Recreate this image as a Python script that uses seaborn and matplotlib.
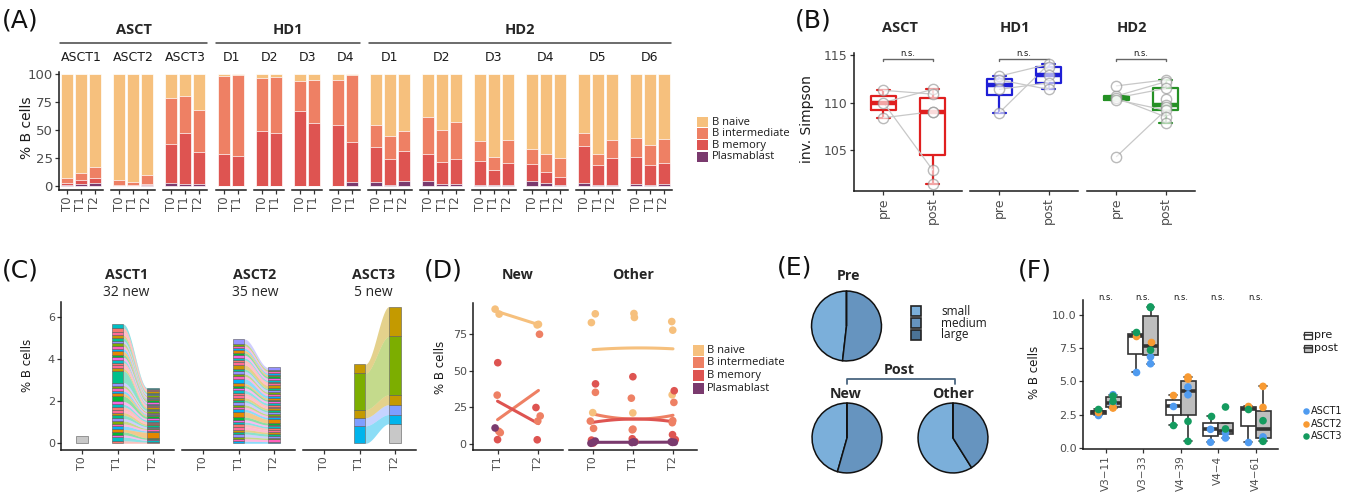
import matplotlib
matplotlib.use('Agg')
import matplotlib.pyplot as plt
from matplotlib.patches import Rectangle
import seaborn as sns
import pandas as pd
import numpy as np

# ---------------- data ----------------
cell_types = ['B naive', 'B intermediate', 'B memory', 'Plasmablast']
cell_colors = ['#F6C07D', '#EE8064', '#DE5451', '#7A3A6E']

# (A) composition per donor / timepoint, % of B cells (B naive = rest up to 100)
a_groups = ['ASCT', 'HD1', 'HD2']
a_facets = ['ASCT1', 'ASCT2', 'ASCT3', 'D1', 'D2', 'D3', 'D4',
            'D1', 'D2', 'D3', 'D4', 'D5', 'D6']
a_times = [['T0', 'T1', 'T2']] * 3 + [['T0', 'T1']] * 4 + [['T0', 'T1', 'T2']] * 6
a_plasma = [[0.8, 1.5, 2.4], [0.2, 0.2, 0.5], [2.4, 2.0, 1.5],
            [0.0, 0.0], [0.0, 0.0], [0.0, 0.0], [0.3, 3.6],
            [3.9, 0.5, 4.5], [4.2, 1.8, 2.0], [1.0, 0.5, 0.5],
            [4.8, 2.7, 0.5], [3.0, 0.5, 0.5], [1.5, 0.5, 1.5]]
a_memory = [[2.2, 3.9, 4.6], [0.8, 0.3, 1.3], [35.1, 45.0, 28.9],
            [28.6, 26.8], [49.0, 47.0], [66.7, 56.5], [54.2, 35.4],
            [30.9, 23.9, 27.0], [24.8, 19.8, 22.3], [21.2, 13.9, 19.9],
            [14.7, 9.9, 7.9], [33.0, 18.4, 24.9], [24.8, 18.4, 19.5]]
a_inter = [[3.8, 5.9, 10.3], [4.4, 3.1, 8.0], [41.5, 33.6, 37.4],
           [69.6, 72.7], [47.4, 50.3], [27.3, 38.5], [40.1, 60.0],
           [19.7, 20.6, 17.9], [32.6, 28.7, 32.9], [18.2, 11.9, 20.9],
           [14.0, 15.8, 16.2], [11.6, 10.1, 15.3], [16.5, 17.3, 20.9]]

# (B) inverse Simpson index
b_groups = ['ASCT', 'HD1', 'HD2']
b_colors = ['#E01F1F', '#1F1FD6', '#259125']
b_pre = [[111.3, 110.0, 108.4],
         [112.8, 112.4, 111.4, 108.95],
         [111.77, 110.7, 110.5, 110.3, 104.3]]
b_post = [[111.4, 110.9, 109.05, 109.05, 102.9, 101.4],
          [114.05, 113.8, 112.9, 112.1, 111.4],
          [112.4, 112.2, 111.5, 110.4, 109.8, 109.5, 109.2, 108.5, 107.8]]
b_link_pre = [[110.0, 111.3, 110.0, 108.4],
              [112.8, 112.4, 111.4, 108.95],
              [111.77, 110.7, 110.5, 110.3, 110.5, 104.3]]
b_link_post = [[111.4, 110.9, 102.9, 109.05],
               [114.05, 111.4, 112.1, 114.05],
               [112.4, 112.2, 111.5, 109.2, 108.5, 109.2]]

# (C) new clones, % of B cells per clone at T0 / T1 / T2
c_facets = ['ASCT1', 'ASCT2', 'ASCT3']
c_new = [32, 35, 5]
asct1_t1 = [0.12, 0.18, 0.10, 0.14, 0.12, 0.16, 0.10, 0.14, 0.12, 0.15, 0.13, 0.11,
            0.16, 0.12, 0.14, 0.25, 0.13, 0.12, 0.15, 0.11, 0.14, 0.55, 0.12, 0.15,
            0.13, 0.11, 0.14, 0.12, 0.16, 0.13, 0.12, 0.14, 0.11, 0.15, 0.13, 0.14,
            0.20, 0.18]
asct1_t2 = [0.06, 0.08, 0.05, 0.07, 0.27, 0.06, 0.07, 0.05, 0.08, 0.06, 0.07, 0.05,
            0.06, 0.08, 0.07, 0.10, 0.06, 0.05, 0.07, 0.06, 0.05, 0.08, 0.06, 0.07,
            0.05, 0.06, 0.08, 0.07, 0.06, 0.05, 0.07, 0.06, 0.08, 0.05, 0.06, 0.07,
            0.06, 0.05]
asct1_t0_other = 0.35
asct2_t1 = [0.10, 0.12, 0.09, 0.13, 0.11, 0.10, 0.14, 0.12, 0.10, 0.11,
            0.13, 0.25, 0.12, 0.10, 0.11, 0.13, 0.09, 0.12, 0.11, 0.10,
            0.14, 0.12, 0.11, 0.10, 0.22, 0.12, 0.11, 0.13, 0.10, 0.20,
            0.12, 0.11, 0.10, 0.13, 0.12, 0.11, 0.10, 0.12, 0.11, 0.21]
asct2_t2 = [0.08, 0.10, 0.07, 0.09, 0.11, 0.08, 0.10, 0.09, 0.08, 0.07,
            0.10, 0.18, 0.09, 0.08, 0.07, 0.10, 0.08, 0.09, 0.07, 0.08,
            0.10, 0.09, 0.08, 0.07, 0.12, 0.09, 0.08, 0.10, 0.07, 0.15,
            0.09, 0.08, 0.07, 0.10, 0.09, 0.08, 0.07, 0.09, 0.08, 0.10]
asct3_t1 = [0.0, 0.83, 0.39, 0.38, 1.74, 0.43]
asct3_t2 = [0.93, 0.44, 0.47, 0.47, 2.78, 1.42]
asct3_colors = ['#C8C8C8', '#00B4EC', '#7F9EFF', '#C49A00', '#7CAE00', '#C49A00']
clone_palette = ['#F8766D', '#00BFC4', '#F564E3', '#00BA38', '#E58700', '#00B0F6',
                 '#FF62BC', '#7CAE00', '#9590FF', '#00C08B', '#C99800', '#FF6A98']

# (D) subsets of new vs other clones
d_new_times = ['T1', 'T2']
d_new_naive = [[92.2, 88.8], [81.4, 81.8]]
d_new_inter = [[33.3, 8.5, 7.6], [75.0, 19.0, 15.5]]
d_new_memory = [[55.5, 2.8], [24.8, 2.7]]
d_new_plasma = [[10.8], []]
d_oth_times = ['T0', 'T1', 'T2']
d_oth_naive = [[89.0, 83.0, 21.3], [86.5, 89.2, 21.1], [83.7, 77.8, 33.5]]
d_oth_inter = [[35.2, 15.5, 10.5], [31.2, 10.0, 9.5], [28.3, 14.4, 15.8]]
d_oth_memory = [[41.0, 2.5, 0.5], [45.9, 3.4, 1.5], [36.3, 6.2, 2.8]]
d_oth_plasma = [[1.8, 0.3, 0.8], [1.0, 0.8, 1.2], [1.3, 1.0, 0.9]]

# (E) clone size classes, %
e_sizes = ['small', 'medium', 'large']
e_colors = ['#7BAFDA', '#6694BF', '#4B7396']
e_pre = [48.2, 51.8, 0.0]
e_new = [45.6, 54.4, 0.0]
e_other = [58.9, 41.1, 0.0]

# (F) IGHV genes
f_genes = ['V3\u221211', 'V3\u221233', 'V4\u221239', 'V4\u22124', 'V4\u221261']
f_donors = ['ASCT1', 'ASCT2', 'ASCT3']
f_donor_colors = ['#4F9BF0', '#F89A32', '#149B5F']
f_pre_vals = [[2.45, 2.68, 2.95], [8.75, 8.4, 5.73], [3.98, 3.18, 1.75],
              [2.38, 1.4, 0.43], [3.18, 2.93, 0.43]]
f_pre_donor = [['ASCT1', 'ASCT2', 'ASCT3'], ['ASCT3', 'ASCT2', 'ASCT1'],
               ['ASCT2', 'ASCT1', 'ASCT3'], ['ASCT3', 'ASCT1', 'ASCT1'],
               ['ASCT2', 'ASCT3', 'ASCT1']]
f_post_vals = [[4.0, 3.9, 3.5, 3.3, 3.05, 3.0],
               [10.6, 10.55, 7.95, 7.35, 6.85, 6.33],
               [5.33, 5.18, 4.58, 4.0, 2.0, 0.5],
               [3.08, 1.43, 1.13, 0.75],
               [4.63, 3.05, 2.05, 0.83, 0.7, 0.5]]
f_post_donor = [['ASCT1', 'ASCT3', 'ASCT3', 'ASCT1', 'ASCT2', 'ASCT2'],
                ['ASCT3', 'ASCT3', 'ASCT2', 'ASCT3', 'ASCT1', 'ASCT1'],
                ['ASCT2', 'ASCT2', 'ASCT1', 'ASCT1', 'ASCT3', 'ASCT3'],
                ['ASCT3', 'ASCT3', 'ASCT1', 'ASCT1'],
                ['ASCT2', 'ASCT2', 'ASCT3', 'ASCT1', 'ASCT1', 'ASCT3']]

# ---------------- figure ----------------
sns.set_theme(style='ticks')
plt.rcParams['font.family'] = ['DejaVu Sans']

W, H = 1347, 498
fig = plt.figure(figsize=(W / 100, H / 100), dpi=100)
TXT = '#4D4D4D'


def px_axes(x0, y0, x1, y1):
    return fig.add_axes([x0 / W, 1 - y1 / H, (x1 - x0) / W, (y1 - y0) / H])


def style(ax, left=True, xsize=8.5, ysize=9.5):
    sns.despine(ax=ax, left=not left)
    ax.patch.set_alpha(0)
    for s in ['left', 'bottom']:
        ax.spines[s].set_linewidth(1.1)
        ax.spines[s].set_color('#1A1A1A')
    ax.tick_params(axis='x', length=3, width=0.9, color='#333333', labelcolor=TXT,
                   labelsize=xsize, pad=1.5, labelrotation=90)
    ax.tick_params(axis='y', length=3, width=0.9, color='#333333', labelcolor=TXT,
                   labelsize=ysize, pad=1.5)
    if not left:
        ax.set_yticks([])
    ax.set_xlabel('')
    ax.set_ylabel('')


ov = fig.add_axes([0, 0, 1, 1], zorder=10)
ov.set_xlim(0, W)
ov.set_ylim(H, 0)
ov.axis('off')

# ---- (A) stacked bars ----
a_starts = [59, 111, 163, 216, 254, 292, 330, 368, 420, 472, 524, 576, 628]
for i, x0 in enumerate(a_starts):
    times = a_times[i]
    n = len(times)
    x1 = x0 + (44 if n == 3 else 30)
    ax = px_axes(x0, 72, x1, 190.3)
    pl = np.array(a_plasma[i])
    me = np.array(a_memory[i])
    it = np.array(a_inter[i])
    tops = [np.full(n, 100.0), pl + me + it, pl + me, pl]
    for top, col in zip(tops, cell_colors):
        sns.barplot(x=times, y=top, order=times, color=col, saturation=1, width=0.9,
                    edgecolor='white', linewidth=0.5, errorbar=None, ax=ax)
    ax.set_ylim(-3.8, 101.8)
    ax.set_xlim(-0.6, n - 0.4)
    style(ax, left=(i == 0))
    if i == 0:
        ax.set_yticks([0, 25, 50, 75, 100])
    ov.text((x0 + x1) / 2, 57, a_facets[i], ha='center', va='center', fontsize=9, color='#1A1A1A')

for name, (gx0, gx1) in zip(a_groups, [(60, 207), (216, 360), (369, 671)]):
    ov.plot([gx0, gx1], [43, 43], color='#444444', lw=1.1)
    ov.text((gx0 + gx1) / 2, 30, name, ha='center', va='center', fontsize=10.5,
            fontweight='bold', family='Open Sans')
ov.text(27, 128, '% B cells', rotation=90, ha='center', va='center', fontsize=10, color='#1A1A1A')
for k, (lab, col) in enumerate(zip(cell_types, cell_colors)):
    yc = 122 + k * 11.6
    ov.add_patch(Rectangle((697, yc - 5.3), 11, 10.6, color=col, lw=0))
    ov.text(712, yc, lab, va='center', ha='left', fontsize=8, family='Open Sans', color='#1A1A1A')

# ---- (B) inverse Simpson ----
b_x = [(854, 962), (970, 1078), (1087, 1195)]
b_title_x = [899.5, 1014.7, 1132]
for g in range(3):
    ax = px_axes(b_x[g][0], 53, b_x[g][1], 191)
    df = pd.DataFrame({'time': ['pre'] * len(b_pre[g]) + ['post'] * len(b_post[g]),
                       'val': b_pre[g] + b_post[g]})
    sns.boxplot(data=df, x='time', y='val', order=['pre', 'post'], color=b_colors[g],
                fill=False, width=0.5, linewidth=1.6, showfliers=False,
                medianprops=dict(linewidth=3.2, color=b_colors[g]), ax=ax)
    links = pd.DataFrame({'pair': list(range(len(b_link_pre[g]))) * 2,
                          'x': [0] * len(b_link_pre[g]) + [1] * len(b_link_post[g]),
                          'val': b_link_pre[g] + b_link_post[g]})
    sns.lineplot(data=links, x='x', y='val', units='pair', estimator=None,
                 color='#C8C8C8', lw=0.9, ax=ax)
    df['x'] = df['time'].map({'pre': 0, 'post': 1})
    sns.scatterplot(data=df, x='x', y='val', s=55, color='white', alpha=0.6,
                    edgecolor='#8C8C8C', linewidth=1.0, ax=ax, zorder=5)
    ax.plot([0, 0, 1, 1], [114.42, 114.6, 114.6, 114.42], color='#666666', lw=1, clip_on=False)
    ax.text(0.5, 114.68, 'n.s.', ha='center', va='bottom', fontsize=6, color='#1A1A1A')
    ax.set_xlim(-0.6, 1.6)
    ax.set_ylim(100.67, 115.24)
    ax.set_xticks([0, 1])
    ax.set_xticklabels(['pre', 'post'])
    style(ax, left=(g == 0), xsize=9, ysize=9)
    if g == 0:
        ax.set_yticks([105, 110, 115])
    ov.text(b_title_x[g], 28, b_groups[g], ha='center', va='center', fontsize=10.5,
            fontweight='bold', family='Open Sans')
ov.text(807, 119, 'inv. Simpson', rotation=90, ha='center', va='center', fontsize=10, color='#1A1A1A')


# ---- (C) alluvial plots ----
def alluvium(ax, sizes, colors, w=1 / 3):
    sizes = np.array(sizes, dtype=float)
    colors = np.array(colors)
    bottoms = np.vstack([np.concatenate([[0], np.cumsum(r)[:-1]]) for r in sizes])
    u = np.linspace(0, 1, 60)
    s = u * u * (3 - 2 * u)
    for t in range(2):
        xx = (t + w / 2) + (1 - w) * u
        for k in range(sizes.shape[1]):
            if sizes[t, k] > 0 and sizes[t + 1, k] > 0:
                lo = bottoms[t, k] + (bottoms[t + 1, k] - bottoms[t, k]) * s
                hi = lo + sizes[t, k] + (sizes[t + 1, k] - sizes[t, k]) * s
                ax.fill_between(xx, lo, hi, color=colors[k], alpha=0.45, lw=0)
    for t in range(3):
        m = sizes[t] > 0
        ax.bar(np.full(m.sum(), t), sizes[t][m], bottom=bottoms[t][m], width=w,
               color=colors[m], edgecolor='#5A5A5A', linewidth=0.4)


n1, n2 = len(asct1_t1), len(asct2_t1)
c_sizes = [
    [[asct1_t0_other] + [0] * n1, [0] + asct1_t1, [0] + asct1_t2],
    [[0] * n2, asct2_t1, asct2_t2],
    [[0] * len(asct3_t1), asct3_t1, asct3_t2],
]
c_colors = [['#C8C8C8'] + [clone_palette[k % 12] for k in range(n1)],
            [clone_palette[(k + 5) % 12] for k in range(n2)],
            asct3_colors]
c_x = [(61, 174), (182, 295), (303, 416)]
c_title_x = [126.5, 255, 373.5]
for f in range(3):
    ax = px_axes(c_x[f][0], 301.7, c_x[f][1], 450)
    alluvium(ax, c_sizes[f], c_colors[f])
    ax.set_xlim(-0.6, 2.6)
    ax.set_ylim(-0.32, 6.74)
    ax.set_xticks([0, 1, 2])
    ax.set_xticklabels(['T0', 'T1', 'T2'])
    style(ax, left=(f == 0), xsize=8, ysize=8)
    if f == 0:
        ax.set_yticks([0, 2, 4, 6])
    ov.text(c_title_x[f], 275, c_facets[f], ha='center', va='center', fontsize=10.3,
            fontweight='bold', family='Open Sans')
    ov.text(c_title_x[f], 292, f'{c_new[f]} new', ha='center', va='center', fontsize=10,
            family='Open Sans')
ov.text(27.5, 365, '% B cells', rotation=90, ha='center', va='center', fontsize=8.5, color='#1A1A1A')


# ---- (D) subsets over time ----
def long_subsets(times, lists):
    rows = []
    for cell, per_time in zip(cell_types, lists):
        for t, vals in zip(times, per_time):
            for v in vals:
                rows.append((t, cell, v))
    return pd.DataFrame(rows, columns=['time', 'cell', 'val'])


np.random.seed(7)
d_panels = [('New', d_new_times, [d_new_naive, d_new_inter, d_new_memory, d_new_plasma], (473, 563)),
            ('Other', d_oth_times, [d_oth_naive, d_oth_inter, d_oth_memory, d_oth_plasma], (569, 697))]
for j, (title, times, lists, (x0, x1)) in enumerate(d_panels):
    ax = px_axes(x0, 303.3, x1, 450)
    df = long_subsets(times, lists)
    sns.stripplot(data=df, x='time', y='val', hue='cell', order=times, hue_order=cell_types,
                  palette=cell_colors, jitter=0.07, size=5.5, linewidth=0, legend=False, ax=ax)
    df['x'] = df['time'].map({t: k for k, t in enumerate(times)})
    for cell, col in zip(cell_types, cell_colors):
        sub = df[df['cell'] == cell]
        nx = sub['x'].nunique()
        if nx < 2:
            continue
        coef = np.polyfit(sub['x'], sub['val'], min(2, nx - 1))
        xs = np.linspace(0, nx - 1, 50)
        sns.lineplot(x=xs, y=np.polyval(coef, xs), color=col, lw=2.2, ax=ax)
    ax.set_xlim(-0.6, len(times) - 0.4)
    ax.set_ylim(-4.3, 96.2)
    style(ax, left=(j == 0), xsize=8, ysize=8)
    if j == 0:
        ax.set_yticks([0, 25, 50, 75])
    ov.text((x0 + x1) / 2, 275, title, ha='center', va='center', fontsize=10.3,
            fontweight='bold', family='Open Sans')
ov.text(441, 367, '% B cells', rotation=90, ha='center', va='center', fontsize=8.5, color='#1A1A1A')
for k, (lab, col) in enumerate(zip(cell_types, cell_colors)):
    yc = 350 + k * 12.7
    ov.add_patch(Rectangle((693, yc - 5.5), 11, 11, color=col, lw=0))
    ov.text(707, yc, lab, va='center', ha='left', fontsize=8, family='Open Sans', color='#1A1A1A')

# ---- (E) clone size pies ----
for vals, (cx, cy) in zip([e_pre, e_new, e_other], [(846.5, 326), (847, 438), (953, 438)]):
    ax = px_axes(cx - 36, cy - 36, cx + 36, cy + 36)
    ax.pie(vals, colors=e_colors, startangle=90, counterclock=True, radius=1,
           wedgeprops=dict(edgecolor='#111111', linewidth=1.1))
    ax.set_xlim(-1.03, 1.03)
    ax.set_ylim(-1.03, 1.03)
    ax.set_aspect('equal')
for txt, x, y in [('Pre', 848, 276), ('Post', 899, 370), ('New', 845.5, 394), ('Other', 953.5, 394)]:
    ov.text(x, y, txt, ha='center', va='center', fontsize=10.3, fontweight='bold', family='Open Sans')
ov.plot([847, 847, 955, 955], [383.5, 379.3, 379.3, 383.5], color='#4A6680', lw=1.3)
for k, (lab, col) in enumerate(zip(e_sizes, e_colors)):
    yc = 311.3 + k * 11.7
    ov.add_patch(Rectangle((911, yc - 5), 10, 10, facecolor=col, edgecolor='#222222', lw=1.2))
    ov.text(941, yc, lab, va='center', ha='left', fontsize=8.5, family='Open Sans', color='#1A1A1A')

# ---- (F) IGHV genes ----
rows = []
for g, gene in enumerate(f_genes):
    for v, d in zip(f_pre_vals[g], f_pre_donor[g]):
        rows.append((gene, 'pre', d, v))
    for v, d in zip(f_post_vals[g], f_post_donor[g]):
        rows.append((gene, 'post', d, v))
fdf = pd.DataFrame(rows, columns=['gene', 'cond', 'donor', 'val'])
ax = px_axes(1083, 300, 1278, 449.3)
sns.boxplot(data=fdf, x='gene', y='val', hue='cond', order=f_genes, hue_order=['pre', 'post'],
            palette={'pre': 'white', 'post': '#BEBEBE'}, saturation=1, linecolor='#333333',
            linewidth=1.2, width=0.8, showfliers=False, legend=False,
            medianprops=dict(linewidth=2.6, color='#333333'), ax=ax)
for donor, col in zip(f_donors, f_donor_colors):
    sub = fdf[fdf['donor'] == donor]
    sns.stripplot(data=sub, x='gene', y='val', hue='cond', order=f_genes, hue_order=['pre', 'post'],
                  dodge=True, jitter=False, palette=[col, col], size=5.5, linewidth=0,
                  legend=False, ax=ax)
ax.set_xlim(-0.6, 4.6)
ax.set_ylim(-0.1, 11.12)
ax.set_yticks([0, 2.5, 5, 7.5, 10])
ax.set_yticklabels(['0.0', '2.5', '5.0', '7.5', '10.0'])
style(ax, xsize=7.5, ysize=8)
for g in range(len(f_genes)):
    ax.text(g, 11.3, 'n.s.', ha='center', va='center', fontsize=6, color='#1A1A1A', clip_on=False)
ov.text(1035, 372, '% B cells', rotation=90, ha='center', va='center', fontsize=8.5, color='#1A1A1A')
for k, (lab, face) in enumerate([('pre', 'white'), ('post', '#BEBEBE')]):
    yc = 335 + k * 13.3
    ov.add_patch(Rectangle((1303.5, yc - 3.5), 8, 7, facecolor=face, edgecolor='#333333', lw=0.9))
    ov.plot([1303.5, 1311.5], [yc, yc], color='#333333', lw=1.2)
    ov.text(1314, yc, lab, va='center', ha='left', fontsize=8, color='#1A1A1A')
for k, (lab, col) in enumerate(zip(f_donors, f_donor_colors)):
    yc = 411 + k * 12.5
    ov.scatter([1306], [yc], s=22, color=col, lw=0)
    ov.text(1311, yc, lab, va='center', ha='left', fontsize=7, color='#1A1A1A')

# ---- panel labels ----
for lab, x, y in [('(A)', 2, 20), ('(B)', 795, 20), ('(C)', 2, 270), ('(D)', 424, 270),
                  ('(E)', 777, 267), ('(F)', 1018, 270)]:
    ov.text(x, y, lab, ha='left', va='center', fontsize=18, color='#111111')

fig.savefig('out.png', dpi=100)
